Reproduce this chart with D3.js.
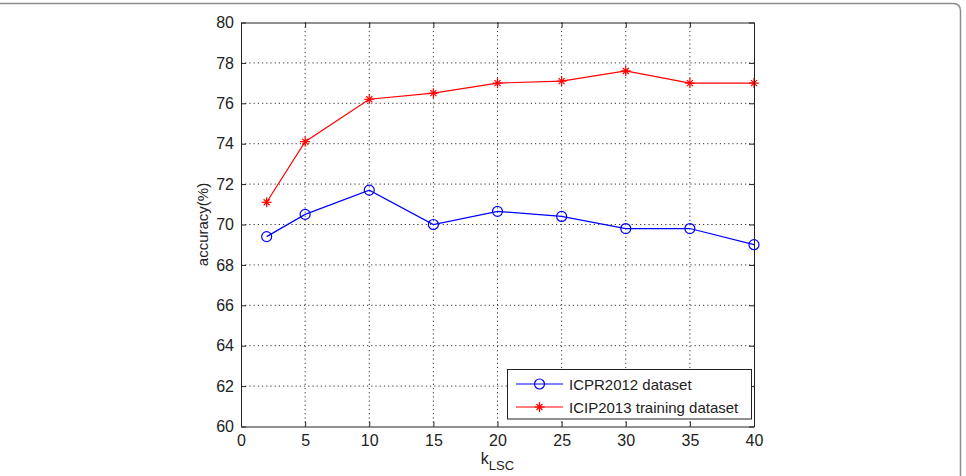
<!DOCTYPE html>
<html>
<head>
<meta charset="utf-8">
<script src="https://cdn.jsdelivr.net/npm/d3@7"></script>
<style>
  body { margin: 0; background: #fff; }
  svg { display: block; font-family: "Liberation Sans", Arial, sans-serif; }
</style>
</head>
<body>
<svg id="chart" width="966" height="476"></svg>
<script>
const kValues = [2, 5, 10, 15, 20, 25, 30, 35, 40];
const icpr2012 = [69.4, 70.5, 71.7, 70.0, 70.65, 70.4, 69.8, 69.8, 69.0];
const icip2013 = [71.1, 74.1, 76.2, 76.5, 77.0, 77.1, 77.6, 77.0, 77.0];
const xTicks = [0, 5, 10, 15, 20, 25, 30, 35, 40];
const yTicks = [60, 62, 64, 66, 68, 70, 72, 74, 76, 78, 80];

const series = [
  { name: "ICPR2012 dataset", values: icpr2012, color: "#0000ff", marker: "circle" },
  { name: "ICIP2013 training dataset", values: icip2013, color: "#ff0000", marker: "star" }
];

const svg = d3.select("#chart");

// card border (top + right, rounded corner)
svg.append("path")
  .attr("d", "M0,3.5 H953 Q960.5,3.5 960.5,11 V476")
  .attr("fill", "none")
  .attr("stroke", "#8c8c8c")
  .attr("stroke-width", 1.5);

const pLeft = 241, pRight = 754, pTop = 22.5, pBottom = 426.5;

const x = d3.scaleLinear().domain([0, 40]).range([pLeft, pRight]);
const y = d3.scaleLinear().domain([60, 80]).range([pBottom, pTop]);

const g = svg.append("g");

// grid
g.selectAll(".vgrid")
  .data(xTicks.slice(1, -1))
  .join("line")
  .attr("x1", d => x(d)).attr("x2", d => x(d))
  .attr("y1", pTop).attr("y2", pBottom)
  .attr("stroke", "#333").attr("stroke-width", 1)
  .attr("stroke-dasharray", "1.2,3");
g.selectAll(".hgrid")
  .data(yTicks.slice(1, -1))
  .join("line")
  .attr("y1", d => y(d)).attr("y2", d => y(d))
  .attr("x1", pLeft).attr("x2", pRight)
  .attr("stroke", "#333").attr("stroke-width", 1)
  .attr("stroke-dasharray", "1.2,3");

// axes (inward ticks, MATLAB style)
const axisStyle = sel => {
  sel.select(".domain").attr("stroke", "#222");
  sel.selectAll(".tick line").attr("stroke", "#222");
  sel.selectAll(".tick text").attr("fill", "#222").style("font-size", "16px")
    .style("font-family", "'Liberation Sans', Arial, sans-serif");
};

svg.append("g").attr("transform", `translate(0,${pBottom})`)
  .call(d3.axisBottom(x).tickValues(xTicks).tickSize(-5).tickSizeOuter(0).tickPadding(8))
  .call(axisStyle);
svg.append("g").attr("transform", `translate(0,${pTop})`)
  .call(d3.axisTop(x).tickValues(xTicks).tickSize(-5).tickSizeOuter(0).tickFormat(""))
  .call(axisStyle);
svg.append("g").attr("transform", `translate(${pLeft},0)`)
  .call(d3.axisLeft(y).tickValues(yTicks).tickSize(-5).tickSizeOuter(0).tickPadding(7))
  .call(axisStyle);
svg.append("g").attr("transform", `translate(${pRight},0)`)
  .call(d3.axisRight(y).tickValues(yTicks).tickSize(-5).tickSizeOuter(0).tickFormat(""))
  .call(axisStyle);

// axis labels
svg.append("text")
  .attr("transform", `translate(208,${(pTop + pBottom) / 2}) rotate(-90)`)
  .attr("text-anchor", "middle")
  .attr("fill", "#222")
  .style("font-size", "15px")
  .text("accuracy(%)");

const xl = svg.append("text")
  .attr("x", (pLeft + pRight) / 2)
  .attr("y", 464)
  .attr("text-anchor", "middle")
  .attr("fill", "#222")
  .style("font-size", "16px");
xl.append("tspan").text("k");
xl.append("tspan").attr("dy", 6).style("font-size", "13px").text("LSC");

// markers
function drawMarker(sel, type, color, cx, cy) {
  if (type === "circle") {
    sel.append("circle").attr("cx", cx).attr("cy", cy).attr("r", 5)
      .attr("fill", "none").attr("stroke", color).attr("stroke-width", 1.2);
  } else {
    const r = 5;
    const mg = sel.append("g").attr("stroke", color).attr("stroke-width", 1.2);
    mg.append("line").attr("x1", cx - r).attr("x2", cx + r).attr("y1", cy).attr("y2", cy);
    mg.append("line").attr("x1", cx).attr("x2", cx).attr("y1", cy - r).attr("y2", cy + r);
    const d = r * 0.6;
    mg.append("line").attr("x1", cx - d).attr("x2", cx + d).attr("y1", cy - d).attr("y2", cy + d);
    mg.append("line").attr("x1", cx - d).attr("x2", cx + d).attr("y1", cy + d).attr("y2", cy - d);
  }
}

const line = d3.line().x(d => x(d[0])).y(d => y(d[1]));

series.forEach(s => {
  const pts = kValues.map((k, i) => [k, s.values[i]]);
  g.append("path")
    .datum(pts)
    .attr("d", line)
    .attr("fill", "none")
    .attr("stroke", s.color)
    .attr("stroke-width", 1.2);
  const mg = g.append("g");
  pts.forEach(p => drawMarker(mg, s.marker, s.color, x(p[0]), y(p[1])));
});

// legend
const lg = svg.append("g");
lg.append("rect")
  .attr("x", 507.5).attr("y", 369.5)
  .attr("width", 244).attr("height", 49.5)
  .attr("fill", "#fff").attr("stroke", "#222").attr("stroke-width", 1);
series.forEach((s, i) => {
  const ly = 384 + i * 23;
  lg.append("line").attr("x1", 516).attr("x2", 563).attr("y1", ly).attr("y2", ly)
    .attr("stroke", s.color).attr("stroke-width", 1.2);
  drawMarker(lg, s.marker, s.color, 539.5, ly);
  lg.append("text").attr("x", 569).attr("y", ly + 5.5)
    .attr("fill", "#222").style("font-size", "15px").text(s.name);
});
</script>
</body>
</html>
